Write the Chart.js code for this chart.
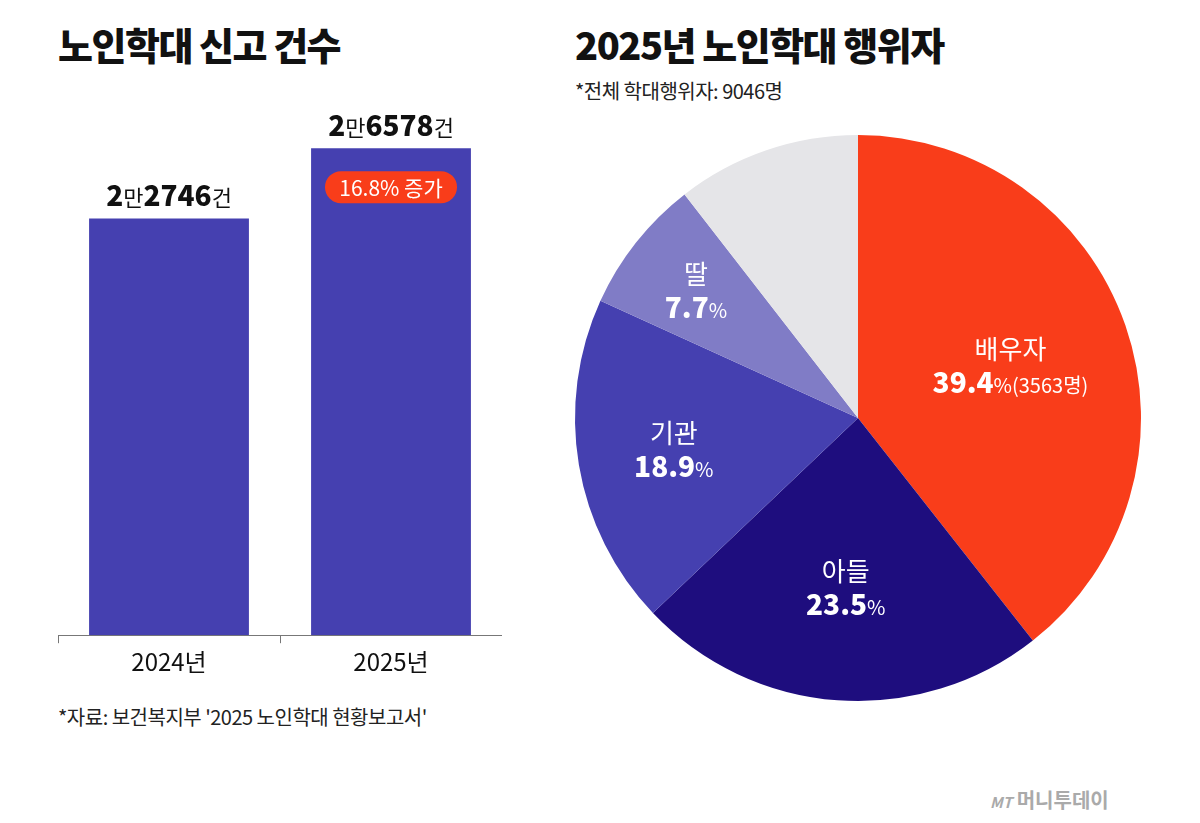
<!DOCTYPE html><html><head><meta charset="utf-8">
<script src="https://cdn.jsdelivr.net/npm/chart.js@4"></script>
<style>
body{margin:0;width:1200px;height:823px;background:#fff;position:relative;overflow:hidden;font-family:"Noto Sans CJK KR",sans-serif}
.t{position:absolute;white-space:nowrap;color:#111}
#bc{position:absolute;left:58px;top:60px}
#pc{position:absolute;left:560px;top:120px}
</style></head><body>
<div class="t" style="left:58px;top:16px;font-size:38px;font-weight:900;letter-spacing:-1.5px">노인학대 신고 건수</div>
<div class="t" style="left:575px;top:16px;font-size:38px;font-weight:900;letter-spacing:-1.5px">2025년 노인학대 행위자</div>
<div class="t" style="left:575px;top:76px;font-size:20px;color:#222;letter-spacing:-0.5px">*전체 학대행위자: 9046명</div>
<div class="t" style="left:58px;top:702px;font-size:20px;color:#222;letter-spacing:-0.5px">*자료: 보건복지부 '2025 노인학대 현황보고서'</div>
<div class="t" style="left:990px;top:785px;font-size:20px;color:#aaa;font-weight:700"><i style="font-size:15px">MT</i> 머니투데이</div>
<canvas id="bc" width="444" height="620"></canvas>
<canvas id="pc" width="600" height="600"></canvas>
<script>
const years=['2024년','2025년'];
const reports=[22746,26578];
const reportLabels=[['2','만','2746','건'],['2','만','6578','건']];
const increaseLabel='16.8% 증가';
const perpCats=['배우자','아들','기관','딸','기타'];
const perpShares=[39.4,23.5,18.9,7.7,10.5];
const perpCounts=[3563,null,null,null,null];
const perpColors=['#F93D1A','#1E0D7E','#4540B0','#807CC6','#E5E5E8'];

Chart.defaults.font.family='"Noto Sans CJK KR", sans-serif';
function mixed(ctx,parts,weights,sizes,cx,y){
  let w=0;parts.forEach((p,i)=>{ctx.font=weights[i]+' '+sizes[i]+'px "Noto Sans CJK KR"';w+=ctx.measureText(p).width;});
  let x=cx-w/2;ctx.textAlign='left';
  parts.forEach((p,i)=>{ctx.font=weights[i]+' '+sizes[i]+'px "Noto Sans CJK KR"';ctx.fillText(p,x,y);x+=ctx.measureText(p).width;});
}
new Chart(document.getElementById('bc'),{type:'bar',
 data:{labels:years,datasets:[{data:reports,backgroundColor:'#4540B0',barPercentage:0.72,categoryPercentage:1}]},
 options:{responsive:false,animation:false,layout:{padding:0},
  plugins:{legend:{display:false},tooltip:{enabled:false}},
  scales:{y:{display:false,min:0,max:26578*574/486},
   x:{grid:{display:true,drawOnChartArea:false,tickLength:8,color:'#777'},border:{color:'#777'},offset:true,
      ticks:{color:'#111',font:{size:24},padding:4}}}},
 plugins:[{id:'lbl',afterDatasetsDraw(c){const ctx=c.ctx;ctx.fillStyle='#111';ctx.textBaseline='alphabetic';
  c.getDatasetMeta(0).data.forEach((b,i)=>{mixed(ctx,reportLabels[i],['900','400','900','400'],[28,22,28,22],b.x,b.y-12);});
  const b=c.getDatasetMeta(0).data[1];const w=132,h=32,y=b.y+23;
  ctx.fillStyle='#F93D1A';ctx.beginPath();ctx.roundRect(b.x-w/2,y,w,h,16);ctx.fill();
  ctx.fillStyle='#fff';ctx.font='400 21px "Noto Sans CJK KR"';ctx.textAlign='center';ctx.textBaseline='middle';ctx.fillText(increaseLabel,b.x,y+h/2+1);
 }}]});
const rf=[0.57,0.6,0.66,0.73,0];
new Chart(document.getElementById('pc'),{type:'pie',
 data:{labels:perpCats,datasets:[{data:perpShares,backgroundColor:perpColors,borderWidth:0}]},
 options:{responsive:false,animation:false,layout:{padding:{left:15,top:15,right:19,bottom:19}},
  plugins:{legend:{display:false},tooltip:{enabled:false}}},
 plugins:[{id:'pl',afterDatasetsDraw(c){const ctx=c.ctx;
  c.getDatasetMeta(0).data.forEach((a,i)=>{if(!rf[i])return;const m=(a.startAngle+a.endAngle)/2,r=a.outerRadius*rf[i];
   const x=a.x+Math.cos(m)*r,y=a.y+Math.sin(m)*r;ctx.fillStyle='#fff';ctx.textAlign='center';ctx.textBaseline='alphabetic';
   ctx.font='400 26px "Noto Sans CJK KR"';ctx.fillText(perpCats[i],x,y-6);
   const s=perpShares[i].toFixed(1);
   if(perpCounts[i])mixed(ctx,[s,'%','('+perpCounts[i]+'명)'],['900','400','400'],[28,20,20],x,y+28);
   else mixed(ctx,[s,'%'],['900','400'],[28,20],x,y+28);
  });}}]});
</script></body></html>
